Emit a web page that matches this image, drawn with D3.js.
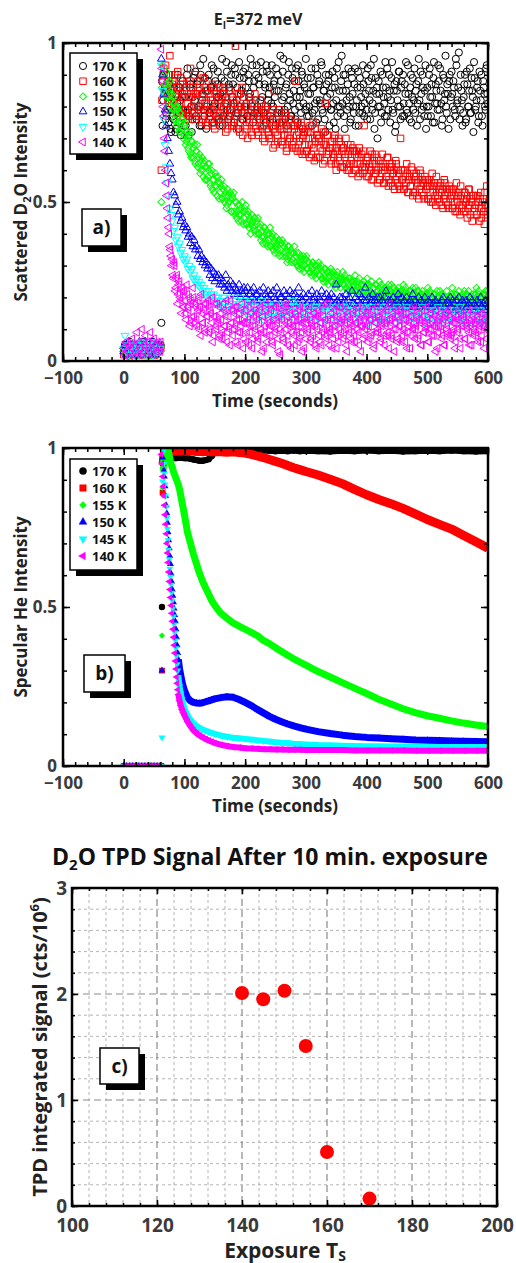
<!DOCTYPE html>
<html>
<head>
<meta charset="utf-8">
<script src="https://cdn.jsdelivr.net/npm/d3@7"></script>
<style>
body { margin: 0; background: #fff; }
text { font-family: 'Open Sans', 'Noto Sans', sans-serif; font-weight: bold; }
</style>
</head>
<body>
<div id="chart"></div>
<script>
// ---- data ----
const tempLabels = ['170 K', '160 K', '155 K', '150 K', '145 K', '140 K'];

// panel a: scattered D2O intensity, sampled every 2 s (even seconds)
const tA = [
  0,2,4,6,8,10,12,14,16,18, 20,22,24,26,28,30,32,34,36,38,
  40,42,44,46,48,50,52,54,56,58, 60,62,64,66,68,70,72,74,76,78,
  80,82,84,86,88,90,92,94,96,98, 100,102,104,106,108,110,112,114,116,118,
  120,122,124,126,128,130,132,134,136,138, 140,142,144,146,148,150,152,154,156,158,
  160,162,164,166,168,170,172,174,176,178, 180,182,184,186,188,190,192,194,196,198,
  200,202,204,206,208,210,212,214,216,218, 220,222,224,226,228,230,232,234,236,238,
  240,242,244,246,248,250,252,254,256,258, 260,262,264,266,268,270,272,274,276,278,
  280,282,284,286,288,290,292,294,296,298, 300,302,304,306,308,310,312,314,316,318,
  320,322,324,326,328,330,332,334,336,338, 340,342,344,346,348,350,352,354,356,358,
  360,362,364,366,368,370,372,374,376,378, 380,382,384,386,388,390,392,394,396,398,
  400,402,404,406,408,410,412,414,416,418, 420,422,424,426,428,430,432,434,436,438,
  440,442,444,446,448,450,452,454,456,458, 460,462,464,466,468,470,472,474,476,478,
  480,482,484,486,488,490,492,494,496,498, 500,502,504,506,508,510,512,514,516,518,
  520,522,524,526,528,530,532,534,536,538, 540,542,544,546,548,550,552,554,556,558,
  560,562,564,566,568,570,572,574,576,578, 580,582,584,586,588,590,592,594,596,598,
  600
];
// the odd seconds after the dose starts (dense series only)
const tA2 = [
  61,63,65,67,69,71,73,75,77,79, 81,83,85,87,89,91,93,95,97,99,
  101,103,105,107,109,111,113,115,117,119, 121,123,125,127,129,131,133,135,137,139,
  141,143,145,147,149,151,153,155,157,159, 161,163,165,167,169,171,173,175,177,179,
  181,183,185,187,189,191,193,195,197,199, 201,203,205,207,209,211,213,215,217,219,
  221,223,225,227,229,231,233,235,237,239, 241,243,245,247,249,251,253,255,257,259,
  261,263,265,267,269,271,273,275,277,279, 281,283,285,287,289,291,293,295,297,299,
  301,303,305,307,309,311,313,315,317,319, 321,323,325,327,329,331,333,335,337,339,
  341,343,345,347,349,351,353,355,357,359, 361,363,365,367,369,371,373,375,377,379,
  381,383,385,387,389,391,393,395,397,399, 401,403,405,407,409,411,413,415,417,419,
  421,423,425,427,429,431,433,435,437,439, 441,443,445,447,449,451,453,455,457,459,
  461,463,465,467,469,471,473,475,477,479, 481,483,485,487,489,491,493,495,497,499,
  501,503,505,507,509,511,513,515,517,519, 521,523,525,527,529,531,533,535,537,539,
  541,543,545,547,549,551,553,555,557,559, 561,563,565,567,569,571,573,575,577,579,
  581,583,585,587,589,591,593,595,597,599
];
const a170 = [
  0.03,0.05,0.02,0.04,0.03,0.06,0.02,0.04,0.05,0.03, 0.04,0.02,0.05,0.03,0.04,0.02,0.06,0.03,0.04,0.05,
  0.03,0.05,0.02,0.04,0.06,0.03,0.04,0.02,0.05,0.03, 0.04,0.12,0.74,0.9,0.86,0.78,0.83,0.75,0.8,0.72,
  0.84,0.76,0.88,0.73,0.81,0.78,0.86,0.71,0.83,0.79, 0.85,0.74,0.9,0.79,0.77,0.87,0.72,0.83,0.8,0.91,
  0.76,0.88,0.8,0.93,0.74,0.84,0.79,0.89,0.73,0.85, 0.9,0.78,0.86,0.75,0.92,0.81,0.77,0.87,0.83,0.74,
  0.8,0.95,0.77,0.88,0.83,0.91,0.76,0.86,0.79,0.93, 0.87,0.75,0.9,0.82,0.78,0.94,0.8,0.85,0.76,0.89,
  0.92,0.81,0.77,0.88,0.84,0.79,0.93,0.86,0.78,0.9, 0.8,0.89,0.76,0.94,0.83,0.78,0.87,0.75,0.91,0.82,
  0.86,0.77,0.93,0.8,0.88,0.74,0.85,0.9,0.79,0.96, 0.78,0.91,0.83,0.76,0.87,0.8,0.94,0.82,0.77,0.89,
  0.85,0.79,0.92,0.75,0.88,0.83,0.78,0.9,0.81,0.86, 0.95,0.77,0.84,0.8,0.89,0.74,0.86,0.79,0.92,0.82,
  0.76,0.88,0.81,0.93,0.78,0.85,0.72,0.87,0.8,0.9, 0.84,0.79,0.91,0.75,0.86,0.82,0.77,0.94,0.8,0.88,
  0.81,0.9,0.73,0.85,0.79,0.92,0.83,0.76,0.89,0.8, 0.87,0.74,0.82,0.91,0.78,0.86,0.8,0.93,0.77,0.84,
  0.79,0.92,0.85,0.76,0.89,0.81,0.95,0.78,0.84,0.7, 0.88,0.8,0.75,0.9,0.83,0.77,0.86,0.92,0.79,0.85,
  0.82,0.94,0.78,0.87,0.74,0.85,0.8,0.91,0.76,0.88, 0.9,0.77,0.84,0.79,0.93,0.81,0.86,0.75,0.89,0.82,
  0.78,0.87,0.81,0.95,0.76,0.84,0.9,0.8,0.85,0.73, 0.86,0.8,0.92,0.77,0.83,0.89,0.75,0.87,0.81,0.93,
  0.79,0.85,0.74,0.9,0.82,0.96,0.78,0.84,0.88,0.76, 0.91,0.8,0.86,0.77,0.93,0.82,0.97,0.79,0.85,0.74,
  0.83,0.9,0.76,0.87,0.8,0.92,0.78,0.85,0.72,0.89, 0.8,0.86,0.75,0.91,0.82,0.77,0.88,0.84,0.79,0.93,
  0.81
];
const a170b = [
  0.05,0.88,0.82,0.91,0.76,0.85,0.79,0.87,0.73,0.82, 0.77,0.86,0.72,0.84,0.9,0.75,0.82,0.79,0.88,0.74,
  0.83,0.78,0.92,0.71,0.86,0.8,0.76,0.89,0.82,0.77, 0.87,0.79,0.74,0.9,0.82,0.95,0.77,0.85,0.8,0.88,
  0.78,0.86,0.93,0.8,0.75,0.88,0.83,0.91,0.76,0.84, 0.89,0.74,0.85,0.81,0.94,0.79,0.87,0.77,0.9,0.83,
  0.81,0.92,0.78,0.86,0.73,0.89,0.84,0.76,0.91,0.8, 0.86,0.77,0.9,0.83,0.95,0.8,0.75,0.88,0.82,0.93,
  0.77,0.87,0.82,0.79,0.91,0.74,0.86,0.93,0.8,0.84, 0.9,0.81,0.76,0.87,0.83,0.92,0.78,0.85,0.75,0.88,
  0.82,0.95,0.79,0.86,0.74,0.9,0.84,0.77,0.92,0.81, 0.88,0.76,0.83,0.93,0.8,0.85,0.91,0.73,0.87,0.79,
  0.8,0.89,0.77,0.84,0.92,0.78,0.86,0.81,0.75,0.9, 0.87,0.82,0.94,0.79,0.85,0.76,0.9,0.83,0.88,0.74,
  0.79,0.86,0.81,0.89,0.73,0.92,0.8,0.85,0.78,0.96, 0.85,0.77,0.9,0.82,0.87,0.8,0.75,0.91,0.84,0.78,
  0.92,0.8,0.86,0.74,0.89,0.83,0.78,0.87,0.81,0.9, 0.76,0.88,0.82,0.93,0.79,0.85,0.73,0.89,0.86,0.8,
  0.84,0.91,0.78,0.86,0.81,0.94,0.77,0.83,0.9,0.75, 0.89,0.79,0.85,0.72,0.88,0.82,0.91,0.8,0.86,0.77,
  0.81,0.87,0.94,0.78,0.84,0.76,0.9,0.83,0.79,0.92, 0.85,0.74,0.88,0.82,0.91,0.79,0.86,0.77,0.93,0.8,
  0.77,0.9,0.83,0.87,0.75,0.94,0.81,0.85,0.79,0.88, 0.92,0.81,0.76,0.89,0.84,0.8,0.87,0.73,0.9,0.83,
  0.84,0.88,0.79,0.95,0.81,0.86,0.76,0.9,0.82,0.78, 0.87,0.75,0.91,0.8,0.85,0.78,0.89,0.83,0.94,0.79,
  0.82,0.88,0.77,0.85,0.9,0.74,0.86,0.8,0.92,0.84
];
const a160 = [
  0.02,0.04,0.03,0.05,0.02,0.03,0.04,0.02,0.05,0.03, 0.03,0.05,0.02,0.04,0.03,0.02,0.05,0.04,0.03,0.02,
  0.04,0.03,0.05,0.02,0.04,0.03,0.02,0.05,0.03,0.04, 0.05,0.6,0.88,0.92,0.86,0.9,0.84,0.88,0.96,0.85,
  0.87,0.8,0.9,0.83,0.78,0.86,0.81,0.89,0.84,0.77, 0.85,0.79,0.87,0.76,0.83,0.92,0.8,0.86,0.78,0.84,
  0.77,0.85,0.8,0.88,0.75,0.83,0.79,0.86,0.82,0.74, 0.84,0.76,0.82,0.87,0.78,0.73,0.85,0.8,0.77,0.86,
  0.75,0.83,0.79,0.86,0.72,0.81,0.77,0.85,0.8,0.74, 0.82,0.76,0.99,0.73,0.8,0.84,0.75,0.79,0.71,0.83,
  0.74,0.8,0.7,0.83,0.77,0.72,0.81,0.76,0.84,0.73, 0.79,0.71,0.77,0.82,0.73,0.76,0.69,0.8,0.75,0.72,
  0.7,0.78,0.74,0.67,0.85,0.72,0.76,0.69,0.79,0.73, 0.75,0.68,0.73,0.78,0.66,0.71,0.76,0.7,0.74,0.67,
  0.69,0.74,0.88,0.66,0.72,0.7,0.75,0.65,0.71,0.68, 0.73,0.66,0.7,0.64,0.72,0.68,0.75,0.63,0.69,0.71,
  0.64,0.7,0.67,0.73,0.62,0.68,0.81,0.65,0.71,0.66, 0.69,0.62,0.67,0.64,0.71,0.6,0.66,0.7,0.63,0.68,
  0.61,0.67,0.64,0.7,0.6,0.65,0.62,0.68,0.59,0.66, 0.66,0.6,0.64,0.58,0.67,0.62,0.65,0.59,0.74,0.61,
  0.58,0.64,0.61,0.66,0.57,0.62,0.59,0.65,0.6,0.56, 0.63,0.57,0.61,0.65,0.56,0.6,0.58,0.64,0.55,0.61,
  0.56,0.62,0.59,0.54,0.63,0.58,0.6,0.55,0.7,0.57, 0.6,0.54,0.58,0.62,0.53,0.57,0.55,0.61,0.52,0.58,
  0.53,0.59,0.56,0.51,0.6,0.55,0.57,0.52,0.58,0.54, 0.57,0.51,0.55,0.5,0.59,0.53,0.56,0.49,0.55,0.52,
  0.5,0.56,0.53,0.48,0.57,0.52,0.54,0.49,0.55,0.51, 0.54,0.48,0.52,0.47,0.56,0.5,0.53,0.46,0.52,0.49,
  0.47,0.53,0.5,0.45,0.54,0.49,0.51,0.44,0.52,0.48, 0.52,0.46,0.5,0.44,0.53,0.48,0.51,0.43,0.49,0.55,
  0.47
];
const a160b = [
  0.04,0.82,0.9,0.85,0.93,0.87,0.82,0.9,0.86,0.81, 0.88,0.82,0.79,0.86,0.91,0.8,0.85,0.78,0.87,0.83,
  0.79,0.86,0.81,0.77,0.88,0.83,0.76,0.84,0.9,0.8, 0.84,0.78,0.86,0.8,0.76,0.89,0.81,0.75,0.85,0.79,
  0.77,0.83,0.79,0.74,0.86,0.8,0.84,0.76,0.82,0.78, 0.82,0.76,0.84,0.78,0.8,0.73,0.85,0.79,0.75,0.83,
  0.74,0.81,0.77,0.84,0.79,0.72,0.8,0.86,0.76,0.78, 0.8,0.73,0.78,0.75,0.82,0.71,0.77,0.8,0.74,0.79,
  0.72,0.78,0.74,0.8,0.7,0.76,0.79,0.73,0.77,0.71, 0.76,0.7,0.79,0.73,0.68,0.75,0.71,0.78,0.74,0.69,
  0.69,0.75,0.71,0.77,0.67,0.73,0.7,0.76,0.68,0.74, 0.73,0.67,0.71,0.75,0.69,0.66,0.74,0.7,0.72,0.65,
  0.66,0.72,0.68,0.74,0.65,0.7,0.67,0.73,0.64,0.71, 0.7,0.64,0.69,0.66,0.72,0.63,0.68,0.71,0.65,0.67,
  0.63,0.69,0.65,0.7,0.62,0.67,0.64,0.69,0.61,0.66, 0.67,0.61,0.65,0.62,0.68,0.6,0.66,0.63,0.67,0.62,
  0.6,0.66,0.62,0.65,0.59,0.64,0.61,0.66,0.6,0.63, 0.64,0.58,0.62,0.6,0.65,0.57,0.63,0.59,0.64,0.6,
  0.57,0.63,0.59,0.62,0.56,0.61,0.58,0.64,0.57,0.6, 0.61,0.55,0.6,0.57,0.62,0.56,0.59,0.54,0.6,0.57,
  0.54,0.6,0.56,0.59,0.53,0.58,0.55,0.6,0.53,0.57, 0.58,0.52,0.57,0.54,0.59,0.53,0.56,0.51,0.57,0.55,
  0.51,0.57,0.53,0.56,0.5,0.55,0.52,0.58,0.51,0.54, 0.55,0.49,0.54,0.51,0.56,0.5,0.53,0.48,0.54,0.52,
  0.48,0.54,0.5,0.53,0.47,0.52,0.49,0.55,0.48,0.51, 0.53,0.47,0.51,0.48,0.54,0.46,0.5,0.52,0.47,0.49,
  0.46,0.52,0.48,0.51,0.45,0.5,0.47,0.53,0.46,0.49
];
const a155 = [
  0.03,0.02,0.04,0.03,0.05,0.02,0.03,0.04,0.02,0.03, 0.04,0.03,0.02,0.05,0.03,0.04,0.02,0.03,0.05,0.02,
  0.03,0.04,0.02,0.03,0.05,0.02,0.04,0.03,0.02,0.04, 0.04,0.5,0.93,0.9,0.87,0.91,0.86,0.83,0.88,0.82,
  0.84,0.79,0.81,0.76,0.8,0.75,0.78,0.72,0.76,0.7, 0.74,0.68,0.72,0.67,0.71,0.65,0.69,0.64,0.68,0.62,
  0.66,0.61,0.64,0.59,0.63,0.6,0.62,0.57,0.61,0.58, 0.6,0.56,0.59,0.54,0.57,0.55,0.58,0.52,0.56,0.53,
  0.55,0.51,0.54,0.5,0.53,0.49,0.52,0.5,0.51,0.47, 0.51,0.47,0.5,0.45,0.49,0.46,0.48,0.44,0.47,0.45,
  0.47,0.43,0.46,0.42,0.45,0.43,0.44,0.41,0.45,0.4, 0.43,0.4,0.42,0.38,0.41,0.39,0.42,0.37,0.4,0.38,
  0.4,0.36,0.39,0.35,0.38,0.36,0.37,0.34,0.38,0.35, 0.37,0.33,0.36,0.34,0.35,0.32,0.36,0.33,0.34,0.32,
  0.34,0.31,0.33,0.3,0.34,0.31,0.32,0.29,0.33,0.3, 0.32,0.29,0.31,0.28,0.3,0.29,0.31,0.27,0.3,0.28,
  0.3,0.27,0.29,0.26,0.28,0.27,0.29,0.25,0.28,0.26, 0.28,0.25,0.27,0.24,0.27,0.25,0.28,0.24,0.26,0.25,
  0.26,0.24,0.27,0.23,0.25,0.24,0.26,0.22,0.25,0.24, 0.25,0.22,0.24,0.23,0.26,0.22,0.24,0.21,0.25,0.23,
  0.24,0.21,0.23,0.22,0.25,0.21,0.23,0.2,0.24,0.22, 0.23,0.21,0.24,0.2,0.22,0.21,0.23,0.2,0.24,0.21,
  0.22,0.2,0.23,0.19,0.22,0.21,0.23,0.19,0.22,0.2, 0.22,0.19,0.23,0.2,0.21,0.19,0.22,0.2,0.23,0.19,
  0.21,0.19,0.22,0.18,0.21,0.2,0.22,0.18,0.21,0.19, 0.21,0.18,0.22,0.19,0.2,0.18,0.21,0.19,0.22,0.18,
  0.2,0.18,0.21,0.17,0.2,0.19,0.22,0.18,0.2,0.17, 0.21,0.18,0.2,0.17,0.21,0.19,0.22,0.18,0.2,0.19,
  0.2,0.17,0.21,0.19,0.22,0.18,0.2,0.17,0.21,0.19, 0.21,0.18,0.22,0.19,0.2,0.17,0.21,0.19,0.22,0.2,
  0.19
];
const a155b = [
  0.03,0.86,0.9,0.84,0.89,0.83,0.87,0.8,0.84,0.78, 0.83,0.76,0.8,0.74,0.79,0.72,0.78,0.75,0.73,0.71,
  0.75,0.69,0.7,0.66,0.72,0.64,0.69,0.67,0.63,0.66, 0.68,0.62,0.65,0.6,0.64,0.58,0.63,0.61,0.57,0.62,
  0.62,0.55,0.6,0.57,0.53,0.59,0.55,0.58,0.51,0.56, 0.57,0.51,0.55,0.52,0.48,0.54,0.5,0.53,0.47,0.52,
  0.53,0.46,0.5,0.47,0.44,0.49,0.46,0.5,0.43,0.48, 0.49,0.43,0.47,0.44,0.4,0.46,0.42,0.45,0.41,0.44,
  0.45,0.4,0.43,0.39,0.37,0.42,0.38,0.41,0.36,0.4, 0.42,0.36,0.4,0.37,0.34,0.39,0.35,0.38,0.33,0.37,
  0.38,0.34,0.37,0.33,0.31,0.36,0.33,0.35,0.31,0.34, 0.36,0.31,0.34,0.3,0.29,0.33,0.3,0.32,0.28,0.32,
  0.33,0.29,0.31,0.28,0.27,0.31,0.28,0.3,0.26,0.29, 0.31,0.27,0.3,0.26,0.25,0.29,0.26,0.28,0.24,0.27,
  0.29,0.25,0.28,0.24,0.23,0.27,0.25,0.26,0.23,0.26, 0.28,0.24,0.26,0.23,0.22,0.26,0.23,0.25,0.21,0.24,
  0.27,0.22,0.25,0.22,0.21,0.24,0.22,0.24,0.2,0.23, 0.26,0.21,0.24,0.21,0.2,0.23,0.21,0.24,0.19,0.22,
  0.25,0.2,0.23,0.21,0.19,0.23,0.2,0.22,0.18,0.22, 0.24,0.2,0.23,0.2,0.18,0.22,0.2,0.21,0.18,0.21,
  0.24,0.19,0.22,0.19,0.18,0.22,0.19,0.21,0.17,0.21, 0.23,0.19,0.22,0.18,0.17,0.21,0.19,0.2,0.17,0.2,
  0.23,0.18,0.21,0.18,0.17,0.21,0.18,0.2,0.16,0.2, 0.22,0.18,0.21,0.17,0.16,0.2,0.18,0.19,0.16,0.2,
  0.23,0.18,0.21,0.17,0.16,0.2,0.18,0.2,0.16,0.21, 0.22,0.17,0.21,0.18,0.16,0.2,0.17,0.2,0.16,0.21,
  0.23,0.18,0.21,0.17,0.16,0.2,0.18,0.21,0.16,0.22
];
const a150 = [
  0.03,0.05,0.02,0.04,0.06,0.03,0.05,0.02,0.04,0.03, 0.05,0.03,0.04,0.06,0.02,0.04,0.05,0.03,0.06,0.04,
  0.02,0.05,0.04,0.03,0.06,0.04,0.02,0.05,0.03,0.04, 0.05,0.95,0.9,0.84,0.79,0.74,0.7,0.66,0.62,0.59,
  0.57,0.53,0.52,0.49,0.5,0.46,0.47,0.44,0.45,0.42, 0.43,0.41,0.42,0.39,0.4,0.37,0.39,0.36,0.38,0.35,
  0.36,0.33,0.35,0.32,0.33,0.31,0.32,0.3,0.31,0.29, 0.3,0.27,0.29,0.26,0.28,0.25,0.27,0.26,0.27,0.24,
  0.26,0.24,0.25,0.23,0.27,0.22,0.24,0.23,0.25,0.22, 0.24,0.21,0.23,0.22,0.21,0.24,0.2,0.22,0.21,0.23,
  0.22,0.2,0.23,0.19,0.21,0.22,0.2,0.23,0.19,0.21, 0.21,0.19,0.22,0.2,0.18,0.23,0.19,0.21,0.2,0.22,
  0.19,0.21,0.18,0.22,0.2,0.19,0.23,0.18,0.21,0.2, 0.2,0.18,0.22,0.19,0.21,0.17,0.2,0.22,0.18,0.21,
  0.19,0.21,0.18,0.2,0.23,0.18,0.2,0.19,0.21,0.17, 0.2,0.18,0.21,0.19,0.17,0.22,0.19,0.2,0.18,0.21,
  0.18,0.2,0.19,0.22,0.17,0.2,0.18,0.21,0.19,0.2, 0.19,0.21,0.17,0.2,0.18,0.24,0.19,0.18,0.2,0.17,
  0.2,0.18,0.19,0.21,0.17,0.19,0.2,0.18,0.22,0.18, 0.18,0.2,0.17,0.19,0.21,0.18,0.2,0.17,0.19,0.23,
  0.19,0.17,0.2,0.18,0.19,0.21,0.17,0.19,0.18,0.2, 0.18,0.2,0.17,0.19,0.18,0.2,0.22,0.17,0.19,0.18,
  0.19,0.17,0.2,0.18,0.17,0.19,0.21,0.18,0.17,0.2, 0.18,0.19,0.17,0.2,0.18,0.17,0.19,0.18,0.21,0.17,
  0.19,0.17,0.18,0.2,0.17,0.19,0.18,0.17,0.2,0.18, 0.17,0.19,0.18,0.16,0.2,0.18,0.17,0.19,0.18,0.17,
  0.18,0.17,0.19,0.2,0.17,0.18,0.16,0.19,0.18,0.2, 0.17,0.19,0.18,0.16,0.19,0.17,0.2,0.18,0.17,0.19,
  0.18,0.16,0.19,0.17,0.18,0.2,0.17,0.19,0.16,0.18, 0.17,0.19,0.16,0.18,0.2,0.17,0.18,0.16,0.19,0.18,
  0.17
];
const a145 = [
  0.04,0.08,0.03,0.05,0.02,0.04,0.06,0.03,0.05,0.02, 0.03,0.05,0.04,0.02,0.06,0.03,0.04,0.05,0.02,0.04,
  0.05,0.03,0.06,0.04,0.02,0.05,0.03,0.04,0.06,0.03, 0.04,0.93,0.85,0.76,0.68,0.61,0.56,0.52,0.48,0.46,
  0.44,0.41,0.42,0.38,0.39,0.36,0.37,0.34,0.35,0.32, 0.33,0.31,0.32,0.29,0.3,0.28,0.29,0.26,0.27,0.25,
  0.26,0.24,0.25,0.23,0.24,0.22,0.23,0.21,0.22,0.2, 0.22,0.2,0.21,0.19,0.21,0.18,0.2,0.19,0.2,0.18,
  0.19,0.17,0.2,0.18,0.16,0.19,0.17,0.18,0.2,0.16, 0.18,0.16,0.19,0.17,0.15,0.18,0.2,0.16,0.17,0.19,
  0.17,0.15,0.18,0.14,0.16,0.19,0.15,0.17,0.13,0.16, 0.15,0.18,0.14,0.16,0.19,0.13,0.17,0.15,0.18,0.14,
  0.16,0.14,0.17,0.15,0.13,0.18,0.16,0.14,0.17,0.15, 0.14,0.17,0.15,0.18,0.13,0.16,0.14,0.17,0.15,0.19,
  0.16,0.13,0.17,0.15,0.14,0.18,0.13,0.16,0.15,0.17, 0.15,0.17,0.13,0.16,0.18,0.14,0.16,0.13,0.17,0.15,
  0.14,0.16,0.15,0.12,0.17,0.15,0.13,0.16,0.18,0.14, 0.16,0.13,0.15,0.17,0.14,0.12,0.16,0.15,0.13,0.17,
  0.15,0.17,0.13,0.15,0.16,0.14,0.18,0.13,0.15,0.16, 0.13,0.15,0.17,0.14,0.12,0.16,0.15,0.17,0.13,0.15,
  0.16,0.14,0.12,0.15,0.17,0.13,0.15,0.14,0.16,0.12, 0.14,0.16,0.15,0.13,0.17,0.14,0.12,0.16,0.15,0.13,
  0.15,0.13,0.16,0.14,0.12,0.17,0.14,0.15,0.13,0.16, 0.13,0.15,0.14,0.17,0.13,0.15,0.16,0.12,0.14,0.15,
  0.15,0.12,0.16,0.14,0.15,0.13,0.17,0.14,0.12,0.15, 0.14,0.16,0.13,0.15,0.12,0.16,0.14,0.13,0.15,0.17,
  0.12,0.15,0.14,0.16,0.13,0.15,0.12,0.16,0.14,0.13, 0.15,0.13,0.16,0.12,0.14,0.15,0.13,0.17,0.12,0.14,
  0.13,0.15,0.12,0.14,0.16,0.13,0.15,0.12,0.14,0.16, 0.14,0.12,0.15,0.13,0.16,0.12,0.14,0.15,0.13,0.11,
  0.14
];
const a140 = [
  0.04,0.02,0.06,0.03,0.05,0.01,0.04,0.07,0.02,0.05, 0.03,0.09,0.02,0.06,0.04,0.1,0.03,0.05,0.08,0.02,
  0.06,0.03,0.09,0.04,0.02,0.07,0.05,0.03,0.06,0.04, 0.03,0.98,0.88,0.77,0.66,0.56,0.48,0.42,0.36,0.33,
  0.32,0.26,0.3,0.23,0.27,0.21,0.25,0.19,0.23,0.17, 0.22,0.15,0.24,0.17,0.2,0.12,0.19,0.23,0.14,0.18,
  0.13,0.19,0.1,0.17,0.21,0.12,0.16,0.09,0.18,0.14, 0.17,0.1,0.15,0.2,0.08,0.14,0.11,0.18,0.12,0.07,
  0.15,0.09,0.18,0.11,0.14,0.06,0.16,0.1,0.19,0.12, 0.08,0.15,0.11,0.17,0.05,0.13,0.09,0.16,0.12,0.07,
  0.14,0.06,0.12,0.17,0.09,0.15,0.04,0.11,0.16,0.08, 0.13,0.07,0.16,0.1,0.03,0.14,0.09,0.18,0.06,0.12,
  0.15,0.08,0.11,0.05,0.17,0.1,0.13,0.07,0.14,0.02, 0.09,0.16,0.06,0.12,0.18,0.08,0.11,0.15,0.04,0.13,
  0.11,0.05,0.14,0.09,0.16,0.07,0.12,0.03,0.15,0.1, 0.07,0.13,0.1,0.17,0.06,0.12,0.08,0.15,0.11,0.04,
  0.14,0.08,0.12,0.05,0.16,0.1,0.13,0.07,0.18,0.09, 0.1,0.15,0.04,0.11,0.14,0.08,0.17,0.06,0.12,0.09,
  0.13,0.07,0.16,0.1,0.03,0.14,0.09,0.12,0.06,0.15, 0.08,0.12,0.1,0.17,0.05,0.11,0.14,0.07,0.13,0.1,
  0.15,0.06,0.11,0.13,0.08,0.16,0.04,0.12,0.09,0.14, 0.09,0.14,0.07,0.12,0.16,0.05,0.11,0.13,0.08,0.18,
  0.12,0.08,0.15,0.03,0.1,0.14,0.07,0.11,0.16,0.06, 0.1,0.13,0.06,0.15,0.09,0.12,0.04,0.14,0.1,0.17,
  0.07,0.11,0.14,0.08,0.13,0.05,0.16,0.09,0.12,0.1, 0.13,0.06,0.1,0.15,0.08,0.11,0.14,0.03,0.12,0.09,
  0.11,0.15,0.07,0.12,0.05,0.14,0.1,0.16,0.08,0.13, 0.08,0.12,0.1,0.04,0.14,0.09,0.13,0.07,0.15,0.11,
  0.14,0.07,0.12,0.1,0.16,0.05,0.11,0.13,0.08,0.12, 0.09,0.13,0.06,0.11,0.15,0.08,0.12,0.04,0.1,0.14,
  0.1
];
const a140b = [
  0.06,0.92,0.8,0.7,0.6,0.52,0.45,0.4,0.35,0.3, 0.27,0.31,0.22,0.26,0.18,0.24,0.2,0.15,0.22,0.17,
  0.19,0.13,0.21,0.16,0.11,0.18,0.14,0.2,0.12,0.17, 0.11,0.16,0.2,0.08,0.15,0.12,0.18,0.1,0.14,0.19,
  0.09,0.16,0.12,0.06,0.14,0.18,0.1,0.13,0.17,0.08, 0.13,0.07,0.16,0.11,0.19,0.09,0.14,0.05,0.12,0.16,
  0.1,0.17,0.06,0.13,0.09,0.15,0.11,0.18,0.04,0.12, 0.16,0.09,0.13,0.05,0.11,0.18,0.07,0.14,0.1,0.15,
  0.06,0.12,0.17,0.09,0.14,0.04,0.11,0.16,0.08,0.13, 0.11,0.16,0.06,0.13,0.09,0.17,0.12,0.03,0.1,0.15,
  0.13,0.07,0.17,0.1,0.14,0.05,0.12,0.16,0.09,0.11, 0.08,0.15,0.11,0.06,0.13,0.17,0.09,0.12,0.04,0.14,
  0.12,0.09,0.16,0.13,0.07,0.11,0.15,0.05,0.14,0.1, 0.16,0.06,0.12,0.09,0.14,0.18,0.08,0.11,0.13,0.05,
  0.09,0.13,0.07,0.16,0.11,0.04,0.14,0.1,0.17,0.12, 0.14,0.08,0.12,0.05,0.15,0.1,0.13,0.07,0.11,0.16,
  0.06,0.12,0.15,0.09,0.13,0.03,0.11,0.16,0.08,0.14, 0.11,0.16,0.07,0.13,0.09,0.14,0.05,0.12,0.17,0.1,
  0.13,0.06,0.11,0.15,0.08,0.12,0.16,0.09,0.04,0.13, 0.07,0.14,0.1,0.12,0.16,0.06,0.13,0.11,0.15,0.08,
  0.15,0.09,0.13,0.04,0.11,0.14,0.08,0.16,0.1,0.12, 0.1,0.13,0.07,0.15,0.12,0.05,0.14,0.09,0.11,0.17,
  0.12,0.06,0.15,0.1,0.13,0.08,0.11,0.16,0.04,0.13, 0.14,0.1,0.08,0.13,0.05,0.15,0.11,0.09,0.14,0.07,
  0.09,0.15,0.12,0.06,0.13,0.1,0.16,0.04,0.11,0.14, 0.13,0.07,0.11,0.15,0.09,0.12,0.05,0.14,0.1,0.16,
  0.08,0.14,0.1,0.12,0.06,0.15,0.11,0.13,0.07,0.12
];

// panel b: specular He intensity
const tB = [
  0,5,10,15,20,25,30,35,40,45,50,55,60,
  62,63,64,65,66,67,68,69,70,71,
  72,73,74,75,76,77,78,79,80,81,
  82,83,84,85,86,87,88,89,90,
  92,94,96,98,100,
  105,110,115,120,125,130,135,140,145,150,
  160,170,180,190,200,210,220,230,240,250,
  260,270,280,290,300,320,340,360,380,400,
  420,440,460,480,500,520,540,560,580,600
];
const b170 = [
  0,0,0,0,0,0,0,0,0,0,0,0,0,
  0,0.5,0.96,0.965,0.97,0.972,0.97,0.968,0.972,0.97,
  0.97,0.968,0.971,0.97,0.969,0.972,0.97,0.968,0.97,0.971,
  0.97,0.969,0.971,0.97,0.968,0.97,0.972,0.969,0.97,
  0.97,0.969,0.971,0.97,0.968,
  0.968,0.966,0.964,0.962,0.96,0.96,0.962,0.965,0.975,0.985,
  0.99,0.991,0.99,0.992,0.99,0.991,0.99,0.992,0.991,0.99,
  0.991,0.99,0.992,0.99,0.991,0.99,0.989,0.991,0.99,0.992,
  0.99,0.991,0.989,0.99,0.991,0.99,0.992,0.99,0.989,0.99
];
const b160 = [
  0,0,0,0,0,0,0,0,0,0,0,0,0,
  0,0.3,0.86,0.95,0.975,0.985,0.99,0.99,0.992,0.99,
  0.993,0.99,0.992,0.99,0.993,0.991,0.99,0.992,0.99,0.993,
  0.99,0.992,0.99,0.993,0.991,0.99,0.992,0.99,0.991,
  0.99,0.992,0.99,0.991,0.99,
  0.99,0.991,0.99,0.989,0.99,0.988,0.99,0.989,0.988,0.989,
  0.988,0.987,0.988,0.986,0.984,0.98,0.975,0.97,0.964,0.958,
  0.952,0.945,0.938,0.932,0.926,0.915,0.902,0.888,0.87,0.853,
  0.838,0.825,0.81,0.793,0.775,0.76,0.745,0.725,0.705,0.685
];
const b155 = [
  0,0,0,0,0,0,0,0,0,0,0,0,0,
  0,0.41,0.875,0.93,0.96,0.975,0.985,0.99,0.995,0.998,
  1.0,0.995,0.985,0.975,0.965,0.958,0.95,0.945,0.94,0.932,
  0.925,0.92,0.915,0.91,0.905,0.9,0.895,0.89,0.885,
  0.87,0.85,0.83,0.81,0.79,
  0.735,0.7,0.665,0.635,0.605,0.58,0.56,0.54,0.52,0.505,
  0.48,0.465,0.45,0.44,0.43,0.42,0.41,0.395,0.385,0.372,
  0.36,0.348,0.337,0.327,0.317,0.297,0.28,0.262,0.245,0.228,
  0.21,0.195,0.18,0.168,0.158,0.15,0.142,0.135,0.129,0.124
];
const b150 = [
  0,0,0,0,0,0,0,0,0,0,0,0,0,
  0,0.3,0.97,0.95,0.93,0.91,0.88,0.85,0.82,0.795,
  0.765,0.735,0.71,0.685,0.66,0.635,0.605,0.58,0.555,0.535,
  0.515,0.495,0.475,0.455,0.43,0.405,0.38,0.355,0.335,
  0.305,0.285,0.265,0.25,0.238,
  0.215,0.205,0.2,0.198,0.197,0.199,0.202,0.205,0.208,0.211,
  0.215,0.218,0.216,0.209,0.2,0.19,0.178,0.167,0.156,0.147,
  0.139,0.132,0.126,0.121,0.116,0.108,0.102,0.097,0.093,0.09,
  0.088,0.086,0.084,0.082,0.081,0.08,0.079,0.078,0.077,0.076
];
const b145 = [
  0,0,0,0,0,0,0,0,0,0,0,0,0,
  0,0.09,0.895,0.99,0.95,0.92,0.885,0.85,0.815,0.78,
  0.745,0.71,0.68,0.65,0.62,0.595,0.57,0.545,0.52,0.495,
  0.47,0.445,0.42,0.395,0.37,0.345,0.32,0.3,0.28,
  0.25,0.228,0.21,0.195,0.182,
  0.16,0.145,0.134,0.126,0.12,0.115,0.111,0.107,0.104,0.101,
  0.096,0.092,0.089,0.087,0.085,0.083,0.081,0.079,0.077,0.075,
  0.073,0.072,0.07,0.069,0.068,0.066,0.065,0.064,0.063,0.062,
  0.062,0.061,0.061,0.061,0.06,0.06,0.06,0.06,0.06,0.06
];
const b140 = [
  0,0,0,0,0,0,0,0,0,0,0,0,0,
  0.98,0.95,0.91,0.88,0.85,0.82,0.79,0.76,0.73,0.7,
  0.67,0.64,0.61,0.58,0.555,0.53,0.505,0.48,0.455,0.43,
  0.405,0.38,0.355,0.33,0.305,0.28,0.26,0.24,0.225,
  0.205,0.19,0.178,0.168,0.16,
  0.14,0.125,0.112,0.103,0.096,0.09,0.085,0.08,0.076,0.072,
  0.067,0.063,0.06,0.058,0.056,0.055,0.054,0.053,0.053,0.052,
  0.052,0.051,0.051,0.051,0.05,0.05,0.05,0.05,0.049,0.049,
  0.049,0.049,0.049,0.048,0.048,0.048,0.048,0.048,0.048,0.048
];

// panel c: TPD signal vs exposure temperature
const cTemp = [140, 145, 150, 155, 160, 170];
const cSignal = [2.01, 1.95, 2.03, 1.51, 0.51, 0.07];

// ticks
const timeTicks = [-100, 0, 100, 200, 300, 400, 500, 600];
const intTicks = [0, 0.5, 1];
const expTicks = [100, 120, 140, 160, 180, 200];
const tpdTicks = [0, 1, 2, 3];

// ---- styling ----
const colors = ['#000000', '#ff0000', '#00ff00', '#0000ff', '#00ffff', '#ff00ff'];
const shapes = [
    { type: d3.symbolCircle, rot: 0, size: 40 },
    { type: d3.symbolSquare, rot: 0, size: 42 },
    { type: d3.symbolSquare, rot: 45, size: 24 },   // diamond
    { type: d3.symbolTriangle, rot: 0, size: 26 },
    { type: d3.symbolTriangle, rot: 180, size: 26 },
    { type: d3.symbolTriangle, rot: -90, size: 26 },
];
const bandWidth = [6, 9, 7, 7, 6, 6];
const lineFrom = [64, 65, 65, 90, 90, 90]; // where the dense band starts in panel b
const FONT = "'Open Sans', 'Noto Sans', sans-serif";
const tickColor = '#3a3a3a';

const svg = d3.select('#chart').append('svg')
    .attr('width', 516).attr('height', 1263);

function styleText(sel, size) {
    sel.selectAll('text')
        .attr('font-family', FONT)
        .attr('font-weight', 'bold')
        .attr('font-size', size)
        .attr('fill', tickColor);
}

// inward ticks on all four sides + frame
function frame(g, x, y, o) {
    const [x0, x1] = x.range();
    const [y0, y1] = y.range();
    const xMinor = d3.range(x.domain()[0], x.domain()[1] + 1e-9, o.xMinorStep);
    const yMinor = d3.range(y.domain()[0], y.domain()[1] + 1e-9, o.yMinorStep);
    const fmt = d3.format('');
    const makers = [
        () => d3.axisBottom(x), () => d3.axisTop(x),
        () => d3.axisLeft(y), () => d3.axisRight(y),
    ];
    const pos = [y0, y1, x0, x1];

    makers.forEach((make, k) => {
        const isX = k < 2;
        const tr = isX ? `translate(0,${pos[k]})` : `translate(${pos[k]},0)`;
        g.append('g').attr('transform', tr)
            .call(make().tickValues(isX ? xMinor : yMinor).tickSize(-o.minorLen).tickFormat(''))
            .call(s => s.select('.domain').remove())
            .selectAll('line').attr('stroke', '#000').attr('stroke-width', 1.5);
        const labelled = k === 0 || k === 2;
        const major = g.append('g').attr('transform', tr)
            .call(make().tickValues(isX ? o.xTicks : o.yTicks)
                .tickSize(-o.majorLen)
                .tickPadding(isX ? o.xPad : o.yPad)
                .tickFormat(labelled ? fmt : ''))
            .call(s => s.select('.domain').remove());
        major.selectAll('line').attr('stroke', '#000').attr('stroke-width', 1.5);
        styleText(major, o.fs);
    });
    g.append('rect')
        .attr('x', x0).attr('y', y1)
        .attr('width', x1 - x0).attr('height', y0 - y1)
        .attr('fill', 'none').attr('stroke', '#000').attr('stroke-width', 2.5);
}

function boxLabel(g, x, y, w, h, txt, fs) {
    g.append('rect').attr('x', x + 6).attr('y', y + 6).attr('width', w).attr('height', h).attr('fill', '#000');
    g.append('rect').attr('x', x).attr('y', y).attr('width', w).attr('height', h)
        .attr('fill', '#fff').attr('stroke', '#000').attr('stroke-width', 1.5);
    g.append('text').attr('x', x + w / 2).attr('y', y + h / 2).attr('dy', '0.36em')
        .attr('text-anchor', 'middle').attr('font-size', fs).attr('fill', '#111').text(txt);
}

function legend(g, x, y, w, h, firstRow, step, filled) {
    g.append('rect').attr('x', x + 6).attr('y', y + 6).attr('width', w).attr('height', h).attr('fill', '#000');
    g.append('rect').attr('x', x).attr('y', y).attr('width', w).attr('height', h)
        .attr('fill', '#fff').attr('stroke', '#000').attr('stroke-width', 1.5);
    tempLabels.forEach((lab, i) => {
        const ry = y + firstRow + i * step;
        g.append('path')
            .attr('d', d3.symbol(shapes[i].type, shapes[i].size)())
            .attr('transform', `translate(${x + 13},${ry}) rotate(${shapes[i].rot})`)
            .attr('fill', filled ? colors[i] : 'none')
            .attr('stroke', colors[i]).attr('stroke-width', filled ? 0.5 : 1);
        g.append('text').attr('x', x + 22).attr('y', ry).attr('dy', '0.36em')
            .attr('font-size', 13).attr('fill', '#111').text(lab);
    });
}

function yLabel(g, x, y, fs, build) {
    const t = g.append('text').attr('transform', `translate(${x},${y}) rotate(-90)`)
        .attr('text-anchor', 'middle').attr('font-size', fs).attr('fill', '#222');
    build(t);
}

// ---- title ----
const title = svg.append('text').attr('x', 258).attr('y', 25).attr('text-anchor', 'middle')
    .attr('font-size', 16).attr('fill', '#222');
title.append('tspan').text('E');
title.append('tspan').attr('font-size', 10).attr('dy', 4).text('I');
title.append('tspan').attr('dy', -4).text('=372 meV');

// ---- panel a ----
const xA = d3.scaleLinear().domain([-100, 600]).range([63, 488]);
const yA = d3.scaleLinear().domain([0, 1]).range([361, 43]);
const gA = svg.append('g');
gA.append('clipPath').attr('id', 'clipA').append('rect')
    .attr('x', 63).attr('y', 43).attr('width', 425).attr('height', 318);

const plotA = gA.append('g').attr('clip-path', 'url(#clipA)');
const seriesA = [
    [[tA, a170], [tA2, a170b]],
    [[tA, a160], [tA2, a160b]],
    [[tA, a155], [tA2, a155b]],
    [[tA, a150]],
    [[tA, a145]],
    [[tA, a140], [tA2, a140b]],
];
seriesA.forEach((parts, i) => {
    const sym = d3.symbol(shapes[i].type, shapes[i].size)();
    const g = plotA.append('g');
    parts.forEach(([times, vals]) => {
        g.append('g').selectAll('path').data(vals).join('path')
            .attr('d', sym)
            .attr('transform', (v, j) => `translate(${xA(times[j])},${yA(v)}) rotate(${shapes[i].rot})`)
            .attr('fill', 'none').attr('stroke', colors[i]).attr('stroke-width', 1);
    });
});
frame(gA, xA, yA, {
    xTicks: timeTicks, yTicks: intTicks, xMinorStep: 20, yMinorStep: 0.1,
    majorLen: 7, minorLen: 4, xPad: 11, yPad: 6, fs: 17,
});
legend(gA, 70, 53, 67, 101, 13, 15.2, false);
boxLabel(gA, 82, 209, 39, 37, 'a)', 19);
gA.append('text').attr('x', 275).attr('y', 407).attr('text-anchor', 'middle')
    .attr('font-size', 17).attr('fill', '#222').text('Time (seconds)');
yLabel(gA, 27, 202, 17, t => {
    t.append('tspan').text('Scattered D');
    t.append('tspan').attr('font-size', 11).attr('dy', 4).text('2');
    t.append('tspan').attr('dy', -4).text('O Intensity');
});

// ---- panel b ----
const xB = d3.scaleLinear().domain([-100, 600]).range([63, 488]);
const yB = d3.scaleLinear().domain([0, 1]).range([766, 448]);
const gB = svg.append('g');
gB.append('clipPath').attr('id', 'clipB').append('rect')
    .attr('x', 63).attr('y', 448).attr('width', 425).attr('height', 318);
const plotB = gB.append('g').attr('clip-path', 'url(#clipB)');
const bandLine = d3.line().x(d => xB(d[0])).y(d => yB(d[1]));
[b170, b160, b155, b150, b145, b140].forEach((vals, i) => {
    const pts = vals.map((v, j) => [tB[j], v]);
    plotB.append('path').datum(pts.filter(d => d[0] >= lineFrom[i]))
        .attr('d', bandLine)
        .attr('fill', 'none').attr('stroke', colors[i])
        .attr('stroke-width', bandWidth[i]).attr('stroke-linejoin', 'round');
    const sym = d3.symbol(shapes[i].type, shapes[i].size * 0.8)();
    plotB.append('g').selectAll('path').data(pts).join('path')
        .attr('d', sym)
        .attr('transform', d => `translate(${xB(d[0])},${yB(d[1])}) rotate(${shapes[i].rot})`)
        .attr('fill', colors[i]);
});
frame(gB, xB, yB, {
    xTicks: timeTicks, yTicks: intTicks, xMinorStep: 20, yMinorStep: 0.1,
    majorLen: 7, minorLen: 4, xPad: 11, yPad: 6, fs: 17,
});
legend(gB, 70, 459, 67, 111, 12, 17, true);
boxLabel(gB, 84, 655, 41, 37, 'b)', 19);
gB.append('text').attr('x', 275).attr('y', 812).attr('text-anchor', 'middle')
    .attr('font-size', 17).attr('fill', '#222').text('Time (seconds)');
yLabel(gB, 27, 607, 17, t => t.text('Specular He Intensity'));

// ---- panel c ----
const xC = d3.scaleLinear().domain([100, 200]).range([72, 497]);
const yC = d3.scaleLinear().domain([0, 3]).range([1206, 888]);
const gC = svg.append('g');

// grid: light minor dashes, darker major dashes
const gridC = gC.append('g');
d3.range(100, 200.1, 4).filter(v => v % 20 !== 0).forEach(v => {
    gridC.append('line').attr('x1', xC(v)).attr('x2', xC(v)).attr('y1', 888).attr('y2', 1206)
        .attr('stroke', '#b4b4b4').attr('stroke-dasharray', '3,3');
});
d3.range(0, 3.01, 0.2).filter(v => Math.abs(v - Math.round(v)) > 1e-6).forEach(v => {
    gridC.append('line').attr('y1', yC(v)).attr('y2', yC(v)).attr('x1', 72).attr('x2', 497)
        .attr('stroke', '#b4b4b4').attr('stroke-dasharray', '3,3');
});
expTicks.slice(1, -1).forEach(v => {
    gridC.append('line').attr('x1', xC(v)).attr('x2', xC(v)).attr('y1', 888).attr('y2', 1206)
        .attr('stroke', '#8a8a8a').attr('stroke-width', 1.2).attr('stroke-dasharray', '7,4');
});
tpdTicks.slice(1, -1).forEach(v => {
    gridC.append('line').attr('y1', yC(v)).attr('y2', yC(v)).attr('x1', 72).attr('x2', 497)
        .attr('stroke', '#8a8a8a').attr('stroke-width', 1.2).attr('stroke-dasharray', '7,4');
});

gC.append('g').selectAll('circle').data(cTemp).join('circle')
    .attr('cx', d => xC(d)).attr('cy', (d, i) => yC(cSignal[i])).attr('r', 7)
    .attr('fill', '#ff0000');

frame(gC, xC, yC, {
    xTicks: expTicks, yTicks: tpdTicks, xMinorStep: 4, yMinorStep: 0.2,
    majorLen: 6, minorLen: 3, xPad: 13, yPad: 5, fs: 19,
});
boxLabel(gC, 100, 1048, 39, 36, 'c)', 19);

const titleC = gC.append('text').attr('x', 270).attr('y', 865).attr('text-anchor', 'middle')
    .attr('font-size', 23).attr('fill', '#111');
titleC.append('tspan').text('D');
titleC.append('tspan').attr('font-size', 15).attr('dy', 5).text('2');
titleC.append('tspan').attr('dy', -5).text('O TPD Signal After 10 min. exposure');

const xlabC = gC.append('text').attr('x', 285).attr('y', 1258).attr('text-anchor', 'middle')
    .attr('font-size', 21).attr('fill', '#222');
xlabC.append('tspan').text('Exposure T');
xlabC.append('tspan').attr('font-size', 14).attr('dy', 3).text('S');

yLabel(gC, 47, 1047, 20, t => {
    t.append('tspan').text('TPD integrated signal (cts/10');
    t.append('tspan').attr('font-size', 13).attr('dy', -8).text('6');
    t.append('tspan').attr('dy', 8).text(')');
});
</script>
</body>
</html>
